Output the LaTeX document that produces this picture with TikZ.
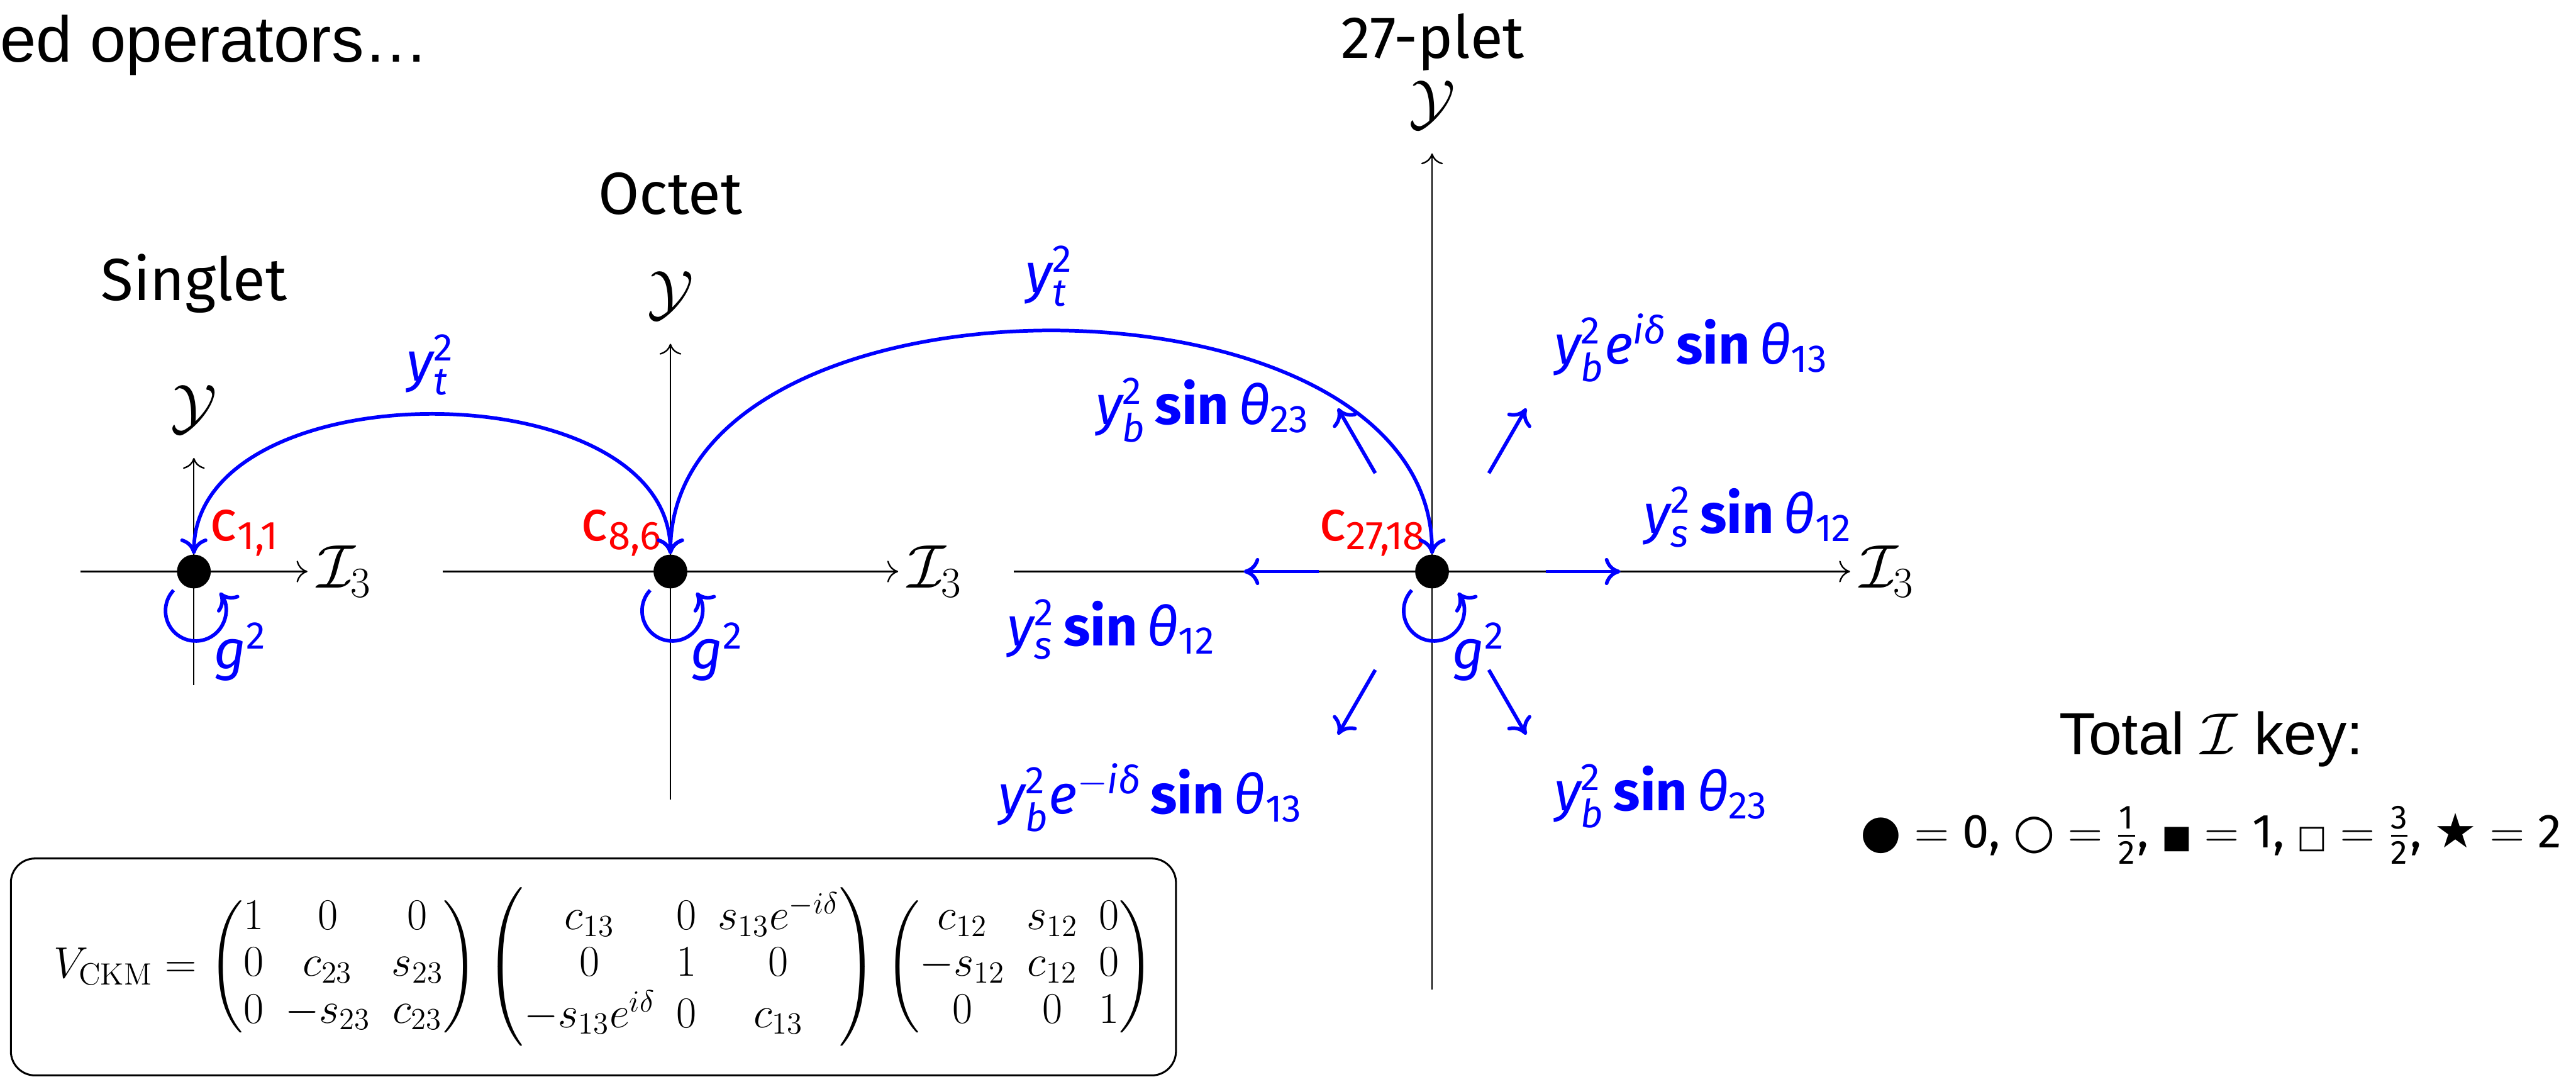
\RequirePackage{fix-cm}
\documentclass[tikz,border=0pt]{standalone}
\usepackage{amsmath}
\usepackage[no-math]{fontspec}
\usepackage{tikz}
\usetikzlibrary{arrows.meta,positioning,calc}
\newfontfamily\fira{Fira Sans}
\newfontfamily\helv{Liberation Sans}
\newfontfamily\djv{DejaVu Sans}
\newcommand{\itv}[1]{\text{\itshape #1}}
\newcommand{\sinop}{\text{\bfseries sin}}

\begin{document}
\begin{tikzpicture}[
  dot/.style={circle, fill=black, inner sep=0pt, minimum size=5.6mm},
  axarr/.style={line width=0.7pt, -{Computer Modern Rightarrow[length=1.8mm,width=3.6mm]}},
  axlab/.style={font=\fontsize{29}{35}\selectfont, inner sep=0.5mm},
  ttl/.style={font=\fira\fontsize{28}{34}\selectfont, inner sep=0pt},
  blab/.style={text=blue, font=\fira\fontsize{26}{31}\selectfont, inner sep=0pt},
  rlab/.style={text=red, font=\fira\fontsize{27}{32}\selectfont, inner sep=0pt},
  barr/.style={blue, line width=1.7pt, -{Computer Modern Rightarrow[length=2.6mm,width=4.5mm]}},
  tarc/.style={blue, line width=1.7pt, {Computer Modern Rightarrow[length=2.6mm,width=4.5mm]}-{Computer Modern Rightarrow[length=2.6mm,width=4.5mm]}}
]
\useasboundingbox (0,0) rectangle (42.65,17.82);

\node[anchor=base west, inner sep=0pt, font=\helv\fontsize{30.5}{36}\selectfont] (head) at (0,16.79) {ed operators…};

% the three multiplets
\node[dot] (s) at (3.21,8.36) {};
\node[dot] (o) at (11.10,8.36) {};
\node[dot] (t) at (23.71,8.36) {};
\node[ttl] (sname) at (3.21,13.13) {Singlet};
\node[ttl] (oname) at (11.10,14.61) {Octet};
\node[ttl] (tname) at (23.72,17.12) {27-plet};

\foreach \n/\r in {s/1.88,o/3.77,t/6.92} {
  \draw[axarr] ([xshift=-\r cm]\n.center) -- ([xshift=\r cm]\n.center) node[axlab, right=1mm] (\n-i) {$\mathcal{I}_3$};
  \draw[axarr] ([yshift=-\r cm]\n.center) -- ([yshift=\r cm]\n.center) node[axlab, above=3.4mm] (\n-y) {$\mathcal{Y}$};
  \draw[barr] ([shift={(0.03,-0.65)}]\n.center) ++(137:0.5) arc[start angle=137, end angle=397, radius=0.5];
  \node[blab] (\n-g) at ([shift={(0.77,-1.33)}]\n.center) {$\itv{g}^{\text{2}}$};
}

\node[rlab, anchor=west] (s-c) at (3.47,9.0) {$\text{c}_{\text{1,1}}$};
\node[rlab, anchor=east] (o-c) at (10.97,9.0) {$\text{c}_{\text{8,6}}$};
\node[rlab, anchor=east] (t-c) at (23.62,9.0) {$\text{c}_{\text{27,18}}$};

% top Yukawa
\draw[tarc] (s) to[out=90,in=90] (o);
\draw[tarc] (o) to[out=90,in=90] (t);
\node[blab] (st-y) at (7.12,11.78) {$\itv{y}_{\itv{t}}^{\text{2}}$};
\node[blab] (ot-y) at (17.37,13.25) {$\itv{y}_{\itv{t}}^{\text{2}}$};

% transitions inside the 27-plet
\foreach \a in {0,60,...,300}
  \draw[barr] ([shift={(\a:1.88)}]t.center) -- ([shift={(\a:3.12)}]t.center);
\node[blab] (t-w) at (18.40,7.40) {$\itv{y}_{\itv{s}}^{\text{2}}\,\sinop\,\itv{θ}_{\text{12}}$};
\node[blab] (t-e) at (28.94,9.26) {$\itv{y}_{\itv{s}}^{\text{2}}\,\sinop\,\itv{θ}_{\text{12}}$};
\node[blab] (t-nw) at (19.91,11.03) {$\itv{y}_{\itv{b}}^{\text{2}}\,\sinop\,\itv{θ}_{\text{23}}$};
\node[blab] (t-ne) at (28.00,12.06) {$\itv{y}_{\itv{b}}^{\text{2}}\itv{e}^{\itv{iδ}}\,\sinop\,\itv{θ}_{\text{13}}$};
\node[blab] (t-sw) at (19.05,4.62) {$\itv{y}_{\itv{b}}^{\text{2}}\itv{e}^{-\itv{iδ}}\,\sinop\,\itv{θ}_{\text{13}}$};
\node[blab] (t-se) at (27.50,4.64) {$\itv{y}_{\itv{b}}^{\text{2}}\,\sinop\,\itv{θ}_{\text{23}}$};

% key and CKM matrix
\node[font=\helv\fontsize{28}{33}\selectfont] (key) at (36.61,5.58) {Total $\mathcal{I}$ key:};
\node[font=\fira\fontsize{22.5}{27}\selectfont, below=4mm of key] (keyrow) {$\text{\djv\fontsize{22}{22}\selectfont ●}= \text{0}$, $\text{\djv ○}= \tfrac{\text{1}}{\text{2}}$, $\text{\djv\fontsize{15}{15}\selectfont ■}= \text{1}$, $\text{\djv\fontsize{15}{15}\selectfont □}= \tfrac{\text{3}}{\text{2}}$, $\text{\djv ★}= \text{2}$};

\node[draw, line width=0.9pt, rounded corners=4mm, minimum width=19.29cm, minimum height=3.59cm, inner sep=0pt, font=\fontsize{20.7}{22}\selectfont] (ckm) at (9.825,1.815) {\hspace*{3.5mm}$V_{\mathrm{CKM}} = \begin{pmatrix} 1 & 0 & 0\\ 0 & c_{23} & s_{23}\\ 0 & -s_{23} & c_{23}\end{pmatrix}\begin{pmatrix} c_{13} & 0 & s_{13}e^{-i\delta}\\ 0 & 1 & 0\\ -s_{13}e^{i\delta} & 0 & c_{13}\end{pmatrix}\begin{pmatrix} c_{12} & s_{12} & 0\\ -s_{12} & c_{12} & 0\\ 0 & 0 & 1\end{pmatrix}$};
\end{tikzpicture}
\end{document}
